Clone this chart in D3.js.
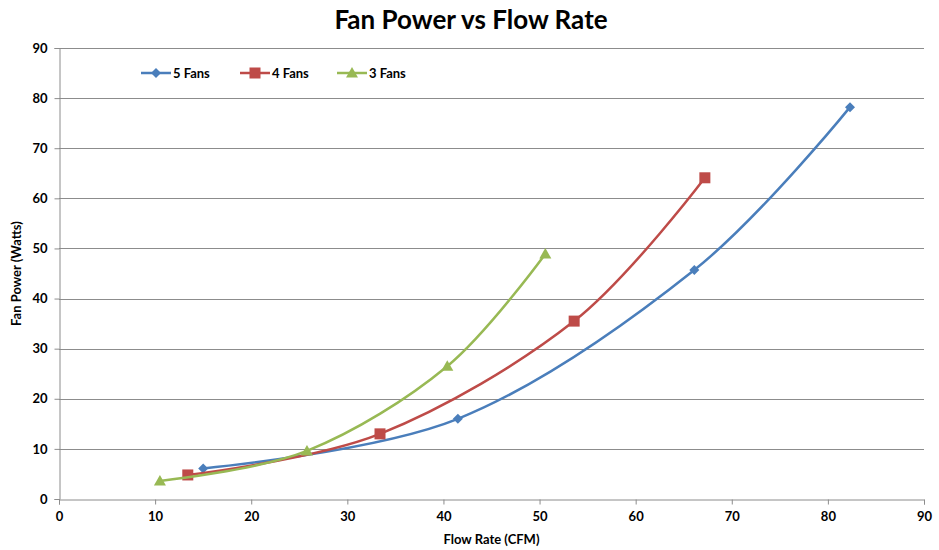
<!DOCTYPE html>
<html>
<head>
<meta charset="utf-8">
<script src="https://cdn.jsdelivr.net/npm/d3@7"></script>
<style>
  html, body { margin: 0; padding: 0; background: #fff; }
  svg { display: block; font-family: Lato, "Open Sans", "Liberation Sans", sans-serif; }
</style>
</head>
<body>
<svg id="chart" width="939" height="550"></svg>
<script>
// Flow rate (CFM) and fan power (W) for each fan count
const flow5 = [15.0, 41.5, 66.1, 82.3];
const power5 = [6.1, 16.0, 45.7, 78.2];
const flow4 = [13.4, 33.4, 53.6, 67.2];
const power4 = [4.8, 13.0, 35.5, 64.1];
const flow3 = [10.5, 25.8, 40.4, 50.6];
const power3 = [3.6, 9.6, 26.5, 48.9];

const seriesNames = ["5 Fans", "4 Fans", "3 Fans"];
const xTicks = [0, 10, 20, 30, 40, 50, 60, 70, 80, 90];
const yTicks = [0, 10, 20, 30, 40, 50, 60, 70, 80, 90];

const series = [
  { name: seriesNames[0], xs: flow5, ys: power5, color: "#4A7EBB", marker: "diamond" },
  { name: seriesNames[1], xs: flow4, ys: power4, color: "#BE4B48", marker: "square" },
  { name: seriesNames[2], xs: flow3, ys: power3, color: "#98B954", marker: "triangle" }
];

const svg = d3.select("#chart");
const plotLeft = 59, plotRight = 924, plotTop = 48, plotBottom = 499;

const x = d3.scaleLinear().domain([0, 90]).range([plotLeft, plotRight]);
const y = d3.scaleLinear().domain([0, 90]).range([plotBottom, plotTop]);

// Horizontal gridlines
svg.append("g")
  .selectAll("line")
  .data(yTicks.filter(d => d > 0))
  .join("line")
  .attr("x1", plotLeft).attr("x2", plotRight)
  .attr("y1", d => Math.round(y(d)) + 0.5).attr("y2", d => Math.round(y(d)) + 0.5)
  .attr("stroke", "#8c8c8c").attr("stroke-width", 1);

// Axes
const xAxis = svg.append("g")
  .attr("transform", `translate(0,${plotBottom + 0.5})`)
  .call(d3.axisBottom(x).tickValues(xTicks).tickSize(5).tickPadding(7));
const yAxis = svg.append("g")
  .attr("transform", `translate(${plotLeft + 0.5},0)`)
  .call(d3.axisLeft(y).tickValues(yTicks).tickSize(5).tickPadding(7));

[xAxis, yAxis].forEach(g => {
  g.select(".domain").attr("stroke", "#8c8c8c");
  g.selectAll(".tick line").attr("stroke", "#8c8c8c");
  g.selectAll(".tick text")
    .attr("fill", "#000")
    .style("font-size", "13px")
    .style("font-weight", "bold")
    .style("font-family", "Lato, 'Open Sans', sans-serif");
});

// Titles
svg.append("text")
  .attr("x", 471).attr("y", 29)
  .attr("text-anchor", "middle")
  .style("font-size", "26px").style("font-weight", "bold")
  .text("Fan Power vs Flow Rate");

svg.append("text")
  .attr("x", x(45)).attr("y", 544)
  .attr("text-anchor", "middle")
  .style("font-size", "13px").style("font-weight", "bold")
  .text("Flow Rate (CFM)");

svg.append("text")
  .attr("transform", `translate(21,${y(45)}) rotate(-90)`)
  .attr("text-anchor", "middle")
  .style("font-size", "13px").style("font-weight", "bold")
  .text("Fan Power (Watts)");

// Marker drawing
function drawMarker(g, type, color) {
  if (type === "diamond") {
    g.append("path").attr("d", "M0,-5L5,0L0,5L-5,0Z").attr("fill", color);
  } else if (type === "square") {
    g.append("rect").attr("x", -5.5).attr("y", -5.5).attr("width", 11).attr("height", 11).attr("fill", color);
  } else {
    g.append("path").attr("d", "M0,-6L6,4.5L-6,4.5Z").attr("fill", color);
  }
}

const line = d3.line()
  .x(d => x(d[0]))
  .y(d => y(d[1]))
  .curve(d3.curveCardinal.tension(0));

series.forEach(s => {
  const pts = s.xs.map((v, i) => [v, s.ys[i]]);
  svg.append("path")
    .datum(pts)
    .attr("d", line)
    .attr("fill", "none")
    .attr("stroke", s.color)
    .attr("stroke-width", 2.5)
    .attr("stroke-linejoin", "round");
  pts.forEach(p => {
    const g = svg.append("g").attr("transform", `translate(${x(p[0])},${y(p[1])})`);
    drawMarker(g, s.marker, s.color);
  });
});

// Legend
const legendX = [141, 240, 337];
series.forEach((s, i) => {
  const g = svg.append("g").attr("transform", `translate(${legendX[i]},73)`);
  g.append("line").attr("x1", 0).attr("x2", 30).attr("y1", 0).attr("y2", 0)
    .attr("stroke", s.color).attr("stroke-width", 2.5);
  drawMarker(g.append("g").attr("transform", "translate(15,0)"), s.marker, s.color);
  g.append("text").attr("x", 32).attr("y", 0).attr("dy", "0.35em")
    .style("font-size", "13px").style("font-weight", "bold")
    .text(s.name);
});
</script>
</body>
</html>
